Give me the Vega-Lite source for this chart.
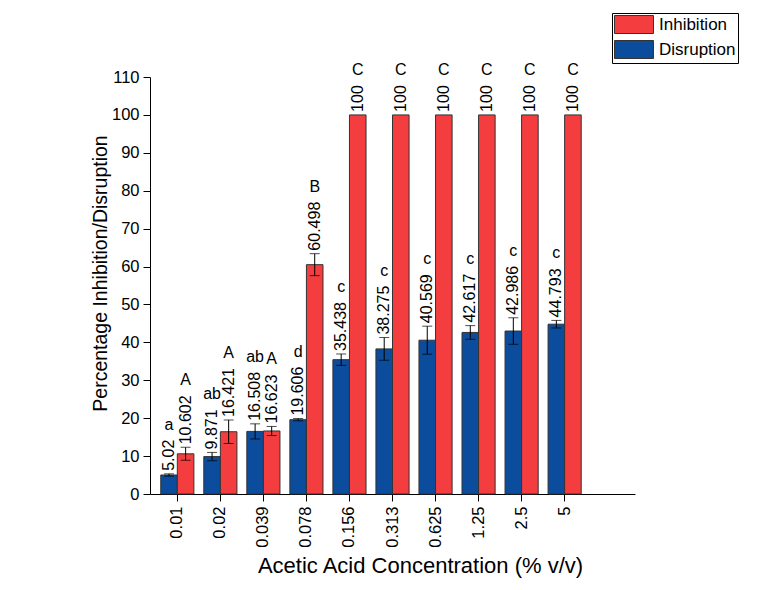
{
  "$schema": "https://vega.github.io/schema/vega-lite/v6.json",
  "width": 485,
  "height": 417,
  "autosize": {"type": "none"},
  "padding": {"left": 150, "top": 77, "right": 132, "bottom": 96},
  "background": "white",
  "config": {
    "font": "Liberation Sans",
    "view": {"stroke": null},
    "axis": {"grid": false, "domainColor": "#000", "tickColor": "#000", "labelColor": "#000", "titleColor": "#000", "titleFontWeight": "normal", "labelFont": "Liberation Sans", "titleFont": "Liberation Sans"}
  },
  "data": {
    "values": [
      {"conc": "0.01", "type": "Disruption", "value": 5.02, "err": 0.3, "letter": "a"},
      {"conc": "0.01", "type": "Inhibition", "value": 10.602, "err": 1.7, "letter": "A"},
      {"conc": "0.02", "type": "Disruption", "value": 9.871, "err": 1.1, "letter": "ab"},
      {"conc": "0.02", "type": "Inhibition", "value": 16.421, "err": 3.1, "letter": "A"},
      {"conc": "0.039", "type": "Disruption", "value": 16.508, "err": 2.0, "letter": "ab"},
      {"conc": "0.039", "type": "Inhibition", "value": 16.623, "err": 1.2, "letter": "A"},
      {"conc": "0.078", "type": "Disruption", "value": 19.606, "err": 0.3, "letter": "d"},
      {"conc": "0.078", "type": "Inhibition", "value": 60.498, "err": 2.9, "letter": "B"},
      {"conc": "0.156", "type": "Disruption", "value": 35.438, "err": 1.5, "letter": "c"},
      {"conc": "0.156", "type": "Inhibition", "value": 100, "err": 0, "letter": "C"},
      {"conc": "0.313", "type": "Disruption", "value": 38.275, "err": 3.0, "letter": "c"},
      {"conc": "0.313", "type": "Inhibition", "value": 100, "err": 0, "letter": "C"},
      {"conc": "0.625", "type": "Disruption", "value": 40.569, "err": 3.7, "letter": "c"},
      {"conc": "0.625", "type": "Inhibition", "value": 100, "err": 0, "letter": "C"},
      {"conc": "1.25", "type": "Disruption", "value": 42.617, "err": 1.8, "letter": "c"},
      {"conc": "1.25", "type": "Inhibition", "value": 100, "err": 0, "letter": "C"},
      {"conc": "2.5", "type": "Disruption", "value": 42.986, "err": 3.5, "letter": "c"},
      {"conc": "2.5", "type": "Inhibition", "value": 100, "err": 0, "letter": "C"},
      {"conc": "5", "type": "Disruption", "value": 44.793, "err": 1.0, "letter": "c"},
      {"conc": "5", "type": "Inhibition", "value": 100, "err": 0, "letter": "C"}
    ]
  },
  "transform": [
    {"calculate": "datum.value - datum.err", "as": "lo"},
    {"calculate": "datum.value + datum.err", "as": "hi"},
    {"calculate": "toString(datum.value)", "as": "label"},
    {"calculate": "datum.hi + (3 + (length(datum.label) - (indexof(datum.label, '.') >= 0 ? 0.5 : 0)) * 8.9 + 15) * 110 / 417", "as": "ly"}
  ],
  "encoding": {
    "x": {
      "field": "conc",
      "type": "nominal",
      "scale": {"domain": ["0.01", "0.02", "0.039", "0.078", "0.156", "0.313", "0.625", "1.25", "2.5", "5", "_"], "paddingInner": 0.23, "paddingOuter": 0.25},
      "axis": {
        "values": ["0.01", "0.02", "0.039", "0.078", "0.156", "0.313", "0.625", "1.25", "2.5", "5"],
        "title": "Acetic Acid Concentration (% v/v)",
        "titleFontSize": 22,
        "titleX": 270,
        "titlePadding": 8,
        "labelAngle": -90,
        "labelFontSize": 16.5,
        "labelPadding": 5,
        "tickSize": 7
      }
    },
    "xOffset": {"field": "type", "type": "nominal", "scale": {"domain": ["Disruption", "Inhibition"], "paddingInner": 0, "paddingOuter": 0}}
  },
  "layer": [
    {
      "mark": {"type": "bar", "stroke": "#333", "strokeWidth": 1},
      "encoding": {
        "y": {
          "field": "value",
          "type": "quantitative",
          "scale": {"domain": [0, 110], "nice": false},
          "axis": {"values": [0, 10, 20, 30, 40, 50, 60, 70, 80, 90, 100, 110], "labelOverlap": false, "title": "Percentage Inhibition/Disruption", "titleFontSize": 19.5, "titlePadding": 1, "titleY": 196, "labelFontSize": 16.5, "labelPadding": 4, "tickSize": 7}
        },
        "color": {
          "field": "type",
          "type": "nominal",
          "scale": {"domain": ["Inhibition", "Disruption"], "range": ["#f43d3f", "#0b4c9c"]},
          "legend": {
            "title": null,
            "orient": "none",
            "legendX": 462,
            "legendY": -64,
            "strokeColor": "#000",
            "padding": 2,
            "rowPadding": 2,
            "symbolType": "M-1,-1H3.33V1H-1Z",
            "symbolSize": 324,
            "symbolStrokeColor": "#333",
            "symbolStrokeWidth": 1,
            "labelFontSize": 17,
            "labelColor": "#000",
            "labelOffset": 26
          }
        }
      }
    },
    {
      "transform": [{"filter": "datum.err > 0"}],
      "mark": {"type": "rule", "color": "#000", "strokeWidth": 1},
      "encoding": {
        "y": {"field": "lo", "type": "quantitative", "axis": {"values": [0, 10, 20, 30, 40, 50, 60, 70, 80, 90, 100, 110], "labelOverlap": false, "title": "Percentage Inhibition/Disruption", "titleFontSize": 19.5, "titlePadding": 1, "titleY": 196, "labelFontSize": 16.5, "labelPadding": 4, "tickSize": 7}},
        "y2": {"field": "hi"}
      }
    },
    {
      "transform": [{"filter": "datum.err > 0"}],
      "mark": {"type": "tick", "color": "#000", "thickness": 1, "size": 10},
      "encoding": {"y": {"field": "lo", "type": "quantitative", "axis": {"values": [0, 10, 20, 30, 40, 50, 60, 70, 80, 90, 100, 110], "labelOverlap": false, "title": "Percentage Inhibition/Disruption", "titleFontSize": 19.5, "titlePadding": 1, "titleY": 196, "labelFontSize": 16.5, "labelPadding": 4, "tickSize": 7}}}
    },
    {
      "transform": [{"filter": "datum.err > 0"}],
      "mark": {"type": "tick", "color": "#000", "thickness": 1, "size": 10},
      "encoding": {"y": {"field": "hi", "type": "quantitative", "axis": {"values": [0, 10, 20, 30, 40, 50, 60, 70, 80, 90, 100, 110], "labelOverlap": false, "title": "Percentage Inhibition/Disruption", "titleFontSize": 19.5, "titlePadding": 1, "titleY": 196, "labelFontSize": 16.5, "labelPadding": 4, "tickSize": 7}}}
    },
    {
      "mark": {"type": "text", "angle": -90, "align": "left", "baseline": "middle", "dx": 3, "fontSize": 16, "color": "#000"},
      "encoding": {"y": {"field": "hi", "type": "quantitative", "axis": {"values": [0, 10, 20, 30, 40, 50, 60, 70, 80, 90, 100, 110], "labelOverlap": false, "title": "Percentage Inhibition/Disruption", "titleFontSize": 19.5, "titlePadding": 1, "titleY": 196, "labelFontSize": 16.5, "labelPadding": 4, "tickSize": 7}}, "text": {"field": "label"}}
    },
    {
      "mark": {"type": "text", "align": "center", "baseline": "middle", "fontSize": 16, "color": "#000"},
      "encoding": {"y": {"field": "ly", "type": "quantitative", "axis": {"values": [0, 10, 20, 30, 40, 50, 60, 70, 80, 90, 100, 110], "labelOverlap": false, "title": "Percentage Inhibition/Disruption", "titleFontSize": 19.5, "titlePadding": 1, "titleY": 196, "labelFontSize": 16.5, "labelPadding": 4, "tickSize": 7}}, "text": {"field": "letter"}}
    }
  ]
}
